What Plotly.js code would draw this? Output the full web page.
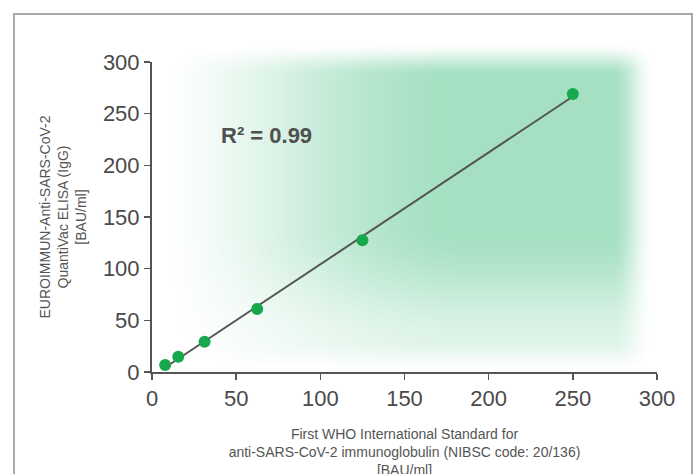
<!DOCTYPE html>
<html>
<head>
<meta charset="utf-8">
<script src="https://cdn.plot.ly/plotly-3.0.1.min.js"></script>
<style>
  html, body { margin: 0; padding: 0; background: #fff; overflow: hidden; width: 698px; height: 474px; }
  #frame { position: absolute; left: 13px; top: 13px; width: 680px; height: 500px; border: 2px solid #a9a9a9; box-sizing: border-box; }
  #chart { position: absolute; left: 0; top: 0; width: 698px; height: 478px; }
</style>
</head>
<body>
<div id="frame"></div>
<div id="chart"></div>
<script>
// Data
const whoStandard = [7.8, 15.6, 31.25, 62.5, 125, 250];   // x [BAU/ml]
const elisaResult = [6.8, 14.8, 29.3, 61, 127.5, 269];   // y [BAU/ml]
const tickValues = [0, 50, 100, 150, 200, 250, 300];
const r2Label = 'R² = 0.99';

// Least-squares fit line from the data
const n = whoStandard.length;
const mx = whoStandard.reduce((a, b) => a + b, 0) / n;
const my = elisaResult.reduce((a, b) => a + b, 0) / n;
let sxy = 0, sxx = 0;
for (let i = 0; i < n; i++) { sxy += (whoStandard[i] - mx) * (elisaResult[i] - my); sxx += (whoStandard[i] - mx) ** 2; }
const slope = sxy / sxx, intercept = my - slope * mx;
const xMin = Math.min(...whoStandard), xMax = Math.max(...whoStandard);
const fitX = [xMin, xMax];
const fitY = fitX.map(v => intercept + slope * v);

// Soft green background glow (decorative), canvas covers plot width, 22px above plot to axis
const GW = 505, GH = 332;
function smooth(a, b, v) { let t = (v - a) / (b - a); t = Math.max(0, Math.min(1, t)); return t * t * (3 - 2 * t); }
function glow() {
  const c = document.createElement('canvas');
  c.width = GW; c.height = GH;
  const ctx = c.getContext('2d');
  const img = ctx.createImageData(GW, GH);
  for (let py = 0; py < GH; py++) {
    const y = py + 40;
    const v = smooth(42, 76, y) * (1 - 0.65 * smooth(225, 350, y)) * (1 - smooth(340, 372, y));
    for (let px = 0; px < GW; px++) {
      const x = px + 152;
      const h = Math.pow(smooth(156, 470, x), 0.8) * (1 - smooth(612, 654, x));
      const a = h * v;
      const i = (py * GW + px) * 4;
      img.data[i] = 164; img.data[i + 1] = 224; img.data[i + 2] = 193; img.data[i + 3] = Math.round(a * 255);
    }
  }
  ctx.putImageData(img, 0, 0);
  return c.toDataURL('image/png');
}

const axisFont = {family: 'Arial, "Liberation Sans", sans-serif', size: 22, color: '#4a4a4a'};
const titleFont = {family: 'Arial, "Liberation Sans", sans-serif', size: 14, color: '#555'};

const traces = [
  {x: fitX, y: fitY, mode: 'lines', line: {color: '#555', width: 2}, hoverinfo: 'skip', showlegend: false},
  {x: whoStandard, y: elisaResult, mode: 'markers', marker: {color: '#17a84b', size: 12}, showlegend: false}
];

const layout = {
  width: 698, height: 478,
  margin: {l: 152, r: 41, t: 62, b: 106},
  paper_bgcolor: 'rgba(0,0,0,0)', plot_bgcolor: 'rgba(0,0,0,0)',
  xaxis: {
    range: [0, 300], tickvals: tickValues, ticks: 'outside', ticklen: 6, tickwidth: 1.5, tickcolor: '#555',
    showline: true, linecolor: '#555', linewidth: 2, showgrid: false, zeroline: false,
    tickfont: axisFont,
    title: {text: 'First WHO International Standard for<br>anti-SARS-CoV-2 immunoglobulin (NIBSC code: 20/136)<br>[BAU/ml]', font: titleFont, standoff: 24}
  },
  yaxis: {
    range: [0, 300], tickvals: tickValues, ticks: 'outside', ticklen: 6, tickwidth: 1.5, tickcolor: '#555',
    showline: true, linecolor: '#555', linewidth: 2, showgrid: false, zeroline: false,
    tickfont: axisFont,
    title: {text: 'EUROIMMUN-Anti-SARS-CoV-2<br>QuantiVac ELISA (IgG)<br>[BAU/ml]', font: titleFont, standoff: 13}
  },
  annotations: [{
    x: 40, y: 229, xref: 'x', yref: 'y', xanchor: 'left', yanchor: 'middle', showarrow: false,
    text: '<b>' + r2Label + '</b>', font: {family: 'Arial, "Liberation Sans", sans-serif', size: 22, color: '#505050'}
  }],
  images: [{
    source: glow(), xref: 'paper', yref: 'paper', x: 0, y: 1 + 22 / 310, sizex: 1.0, sizey: GH / 310,
    xanchor: 'left', yanchor: 'top', sizing: 'stretch', layer: 'below'
  }]
};

Plotly.newPlot('chart', traces, layout, {displayModeBar: false, staticPlot: true});
</script>
</body>
</html>
